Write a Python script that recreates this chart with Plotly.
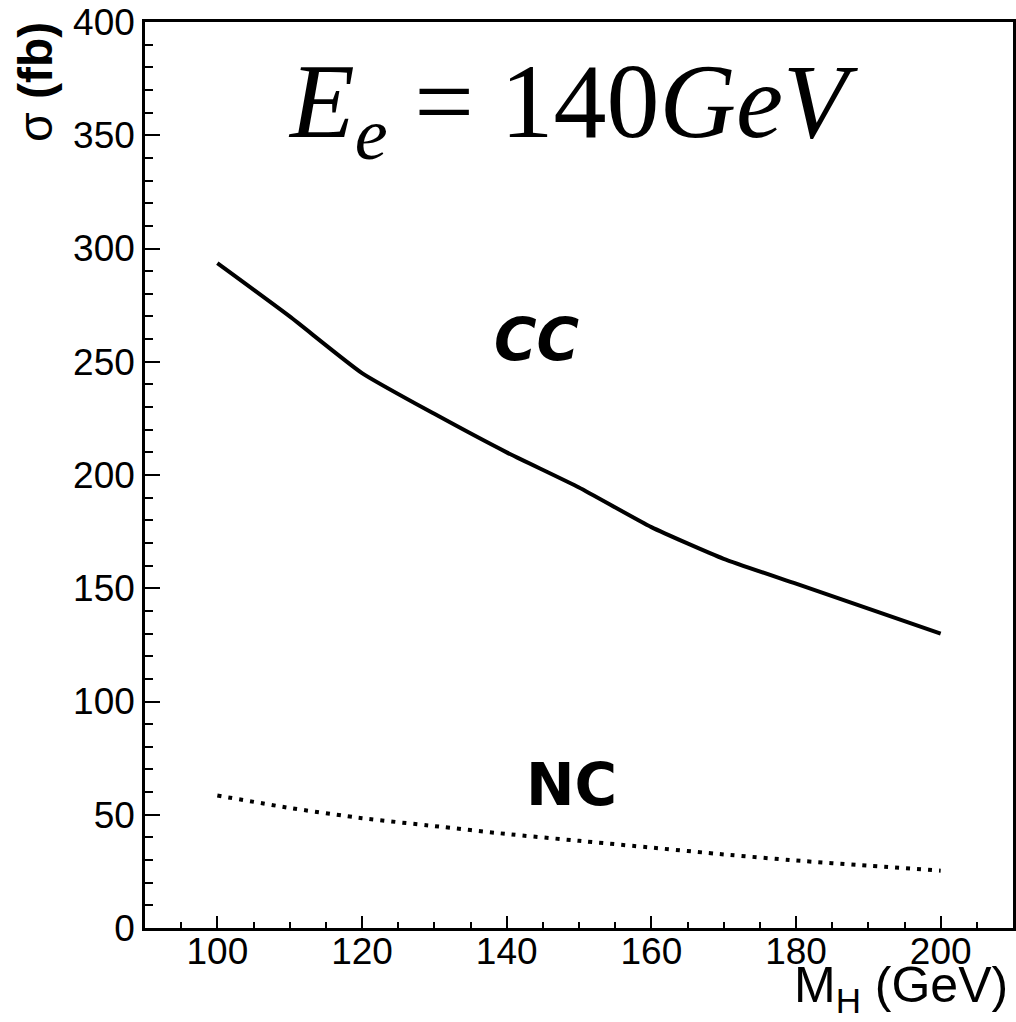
import plotly.graph_objects as go

# Data
mh = [100, 110, 120, 130, 140, 150, 160, 170, 180, 190, 200]
sigma_cc = [293.5, 270, 245, 227, 210, 194.5, 177, 163, 152, 141, 130]
sigma_nc = [58.5, 53, 48.5, 45, 41.5, 38.5, 35.5, 32.5, 29.8, 27.5, 25.3]

x_ticks = [100, 120, 140, 160, 180, 200]
y_ticks = [0, 50, 100, 150, 200, 250, 300, 350, 400]

W, H = 1016, 1022
L, R, T, B = 145, 3, 22, 94

fig = go.Figure()
fig.add_trace(go.Scatter(x=mh, y=sigma_cc, mode="lines",
                         line=dict(color="black", width=4, shape="spline", smoothing=0.5),
                         showlegend=False))
fig.add_trace(go.Scatter(x=mh, y=sigma_nc, mode="lines",
                         line=dict(color="black", width=4, dash="4px,7px", shape="spline", smoothing=0.5),
                         showlegend=False))

tickfont = dict(family="Liberation Sans, Arial, sans-serif", size=37, color="black")

fig.update_layout(
    width=W, height=H,
    margin=dict(l=L, r=R, t=T, b=B, pad=0),
    paper_bgcolor="white", plot_bgcolor="white",
    showlegend=False,
    xaxis=dict(range=[90, 210], tickvals=x_ticks, ticks="inside", ticklen=12, tickwidth=2,
               tickcolor="black", showgrid=False, zeroline=False, automargin=False,
               showline=True, linewidth=3, linecolor="black", mirror=True,
               tickfont=tickfont, ticklabelstandoff=-11,
               minor=dict(dtick=5, tick0=90, ticks="inside", ticklen=6, tickwidth=2,
                          tickcolor="black", showgrid=False)),
    yaxis=dict(range=[0, 400], tickvals=y_ticks, ticks="inside", ticklen=15, tickwidth=2,
               tickcolor="black", showgrid=False, zeroline=False, automargin=False,
               showline=True, linewidth=2.5, linecolor="black", mirror=True,
               tickfont=tickfont,
               minor=dict(dtick=10, tick0=0, ticks="inside", ticklen=8, tickwidth=2,
                          tickcolor="black", showgrid=False)),
)

pw, ph = W - L - R, H - T - B

def px2paper(px, py):
    return (px - L) / pw, (H - B - py) / ph

ax, ay = px2paper(1010, 1022)
fig.add_annotation(text="M<sub>H</sub> (GeV)", xref="paper", yref="paper", x=ax, y=ay,
                   xanchor="right", yanchor="bottom", showarrow=False,
                   font=dict(family="Liberation Sans, Arial, sans-serif", size=50, color="black"))

ax, ay = px2paper(36, 20)
fig.add_annotation(text="σ <b>(fb)</b>", xref="paper", yref="paper", x=ax, y=ay,
                   xanchor="center", yanchor="top", textangle=-90, showarrow=False,
                   font=dict(family="Liberation Sans, Arial, sans-serif", size=48, color="black"))

ax, ay = px2paper(573, 109)
fig.add_annotation(text="<i>E</i><sub><i>e</i></sub> = 140<i>GeV</i>", xref="paper", yref="paper",
                   x=ax, y=ay, xanchor="center", yanchor="middle", showarrow=False,
                   font=dict(family="Liberation Serif, Times New Roman, serif", size=106, color="black"))

fig.add_annotation(text="<b><i>CC</i></b>", xref="x", yref="y", x=144.1, y=259.4,
                   xanchor="center", yanchor="middle", showarrow=False,
                   font=dict(family="DejaVu Sans, sans-serif", size=58, color="black"))
fig.add_annotation(text="<b>NC</b>", xref="x", yref="y", x=149.0, y=63,
                   xanchor="center", yanchor="middle", showarrow=False,
                   font=dict(family="DejaVu Sans, sans-serif", size=58, color="black"))

fig.write_html("out.html", config={"displayModeBar": False},
               post_script="document.body.style.margin='0';")
